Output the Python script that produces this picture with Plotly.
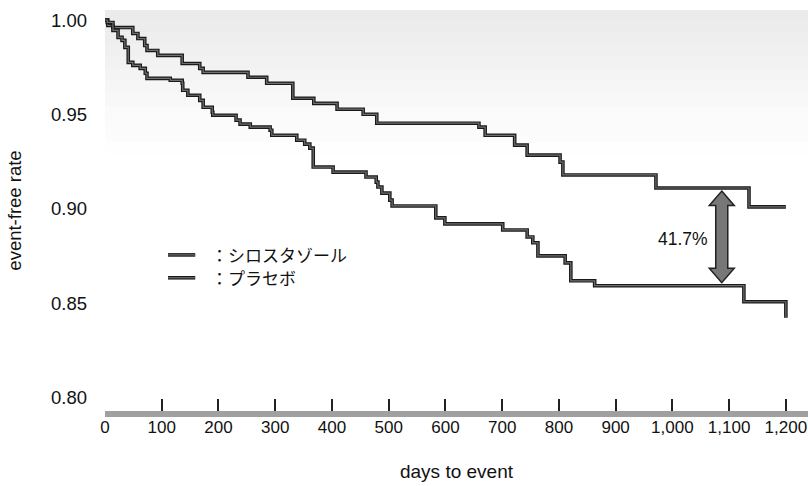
import plotly.graph_objects as go

# Kaplan–Meier estimates: days since randomisation and event-free rate
cilostazol_days = [0, 5, 14, 49, 58, 70, 74, 93, 136, 167, 173, 252, 285, 331, 368,
                   409, 455, 479, 659, 670, 722, 744, 802, 807, 971, 1135, 1200]
cilostazol_rate = [1.0, 0.9971, 0.9960, 0.9929, 0.9902, 0.9865, 0.9839, 0.9813, 0.9770,
                   0.9744, 0.9723, 0.9697, 0.9665, 0.9586, 0.9559, 0.9528, 0.9501, 0.9454,
                   0.9433, 0.9390, 0.9338, 0.9285, 0.9248, 0.9180, 0.9111, 0.9011, 0.9011]

placebo_days = [0, 4, 14, 23, 30, 35, 41, 49, 62, 71, 74, 115, 136, 137, 146, 167, 173,
                189, 190, 231, 238, 256, 291, 294, 338, 352, 361, 367, 402, 460, 478, 481,
                488, 502, 506, 583, 599, 701, 744, 754, 763, 811, 821, 863, 1126, 1200]
placebo_rate = [1.0, 0.9987, 0.9945, 0.9908, 0.9892, 0.9855, 0.9776, 0.9760, 0.9744,
                0.9718, 0.9691, 0.9681, 0.9665, 0.9628, 0.9602, 0.9575, 0.9538, 0.9512,
                0.9496, 0.9470, 0.9449, 0.9433, 0.9417, 0.9390, 0.9364, 0.9343, 0.9322,
                0.9222, 0.9195, 0.9169, 0.9142, 0.9116, 0.9084, 0.9047, 0.9016, 0.8953,
                0.8921, 0.8889, 0.8852, 0.8821, 0.8752, 0.8715, 0.8620, 0.8594, 0.8509,
                0.8425]

series_names = ["シロスタゾール", "プラセボ"]
x_ticks = [0, 100, 200, 300, 400, 500, 600, 700, 800, 900, 1000, 1100, 1200]
x_tick_text = ["0", "100", "200", "300", "400", "500", "600", "700", "800", "900",
               "1,000", "1,100", "1,200"]
y_ticks = [0.80, 0.85, 0.90, 0.95, 1.00]
reduction_label = "41.7%"
reduction_day = 1087

OUTLINE = "#1a1a1a"
INNER = "#707070"


def rate_at(days, rates, day):
    """Step-function lookup of the survival estimate at a given day."""
    value = rates[0]
    for d, r in zip(days, rates):
        if d <= day:
            value = r
    return value


fig = go.Figure()

# each curve: dark outline with a grey core
for days, rates, name in [(cilostazol_days, cilostazol_rate, series_names[0]),
                          (placebo_days, placebo_rate, series_names[1])]:
    fig.add_trace(go.Scatter(x=days, y=rates, mode="lines", line_shape="hv",
                             line=dict(color=OUTLINE, width=3.6), name=name,
                             showlegend=False, hoverinfo="skip"))
    fig.add_trace(go.Scatter(x=days, y=rates, mode="lines", line_shape="hv",
                             line=dict(color=INNER, width=1.2), name=name,
                             showlegend=False))

shapes = []

# faint print haze across the top of the panel, fading downward
haze_top, haze_step, haze_levels = 1.0065, 0.0065, [0.08, 0.075, 0.066, 0.058, 0.05,
                                                    0.042, 0.035, 0.028, 0.021, 0.015,
                                                    0.01, 0.005]
for i, a in enumerate(haze_levels):
    y1 = haze_top - i * haze_step
    shapes.append(dict(type="rect", xref="x", yref="y", x0=-8, x1=1240,
                       y0=y1 - haze_step, y1=y1,
                       fillcolor=f"rgba(0,0,0,{a})", line=dict(width=0), layer="below"))

# double-headed arrow between the two curves
upper = rate_at(cilostazol_days, cilostazol_rate, reduction_day) - 0.0016
lower = rate_at(placebo_days, placebo_rate, reduction_day) + 0.0016
sw, hw, hl = 10.6, 22.0, 0.0076
x = reduction_day
pts = [(x, upper), (x + hw, upper - hl), (x + sw, upper - hl), (x + sw, lower + hl),
       (x + hw, lower + hl), (x, lower), (x - hw, lower + hl), (x - sw, lower + hl),
       (x - sw, upper - hl), (x - hw, upper - hl)]
path = "M " + " L ".join(f"{px},{py}" for px, py in pts) + " Z"
shapes.append(dict(type="path", xref="x", yref="y", path=path, fillcolor="#777777",
                   line=dict(color="#222222", width=1.5)))

# legend keys
for ky in (0.8757, 0.8636):
    shapes.append(dict(type="line", xref="x", yref="y", x0=111, x1=159, y0=ky, y1=ky,
                       line=dict(color=OUTLINE, width=3.6)))
    shapes.append(dict(type="line", xref="x", yref="y", x0=111, x1=159, y0=ky, y1=ky,
                       line=dict(color=INNER, width=1.2)))

annotations = [
    dict(x=183, y=0.8757, xref="x", yref="y", text="：" + series_names[0],
         showarrow=False, xanchor="left", yanchor="middle",
         font=dict(family="Noto Sans CJK JP", size=17, color="#111111")),
    dict(x=183, y=0.8636, xref="x", yref="y", text="：" + series_names[1],
         showarrow=False, xanchor="left", yanchor="middle",
         font=dict(family="Noto Sans CJK JP", size=17, color="#111111")),
    dict(x=1018, y=0.8842, xref="x", yref="y", text=reduction_label, showarrow=False,
         xanchor="center", yanchor="middle",
         font=dict(family="Liberation Sans", size=17.5, color="#111111")),
]

fig.update_layout(
    width=808, height=486,
    margin=dict(l=105, r=0, t=10, b=75),
    paper_bgcolor="white", plot_bgcolor="white",
    font=dict(family="Liberation Sans", color="#111111"),
    shapes=shapes, annotations=annotations,
    xaxis=dict(range=[0, 1239], tickmode="array", tickvals=x_ticks, ticktext=x_tick_text,
               ticks="inside", ticklen=12, tickwidth=1.5, tickcolor="#222222",
               showline=True, linecolor="#a0a0a0", linewidth=6, showgrid=False,
               zeroline=False, tickfont=dict(size=17), ticklabelstandoff=-4,
               title=dict(text="days to event", font=dict(size=19), standoff=30)),
    yaxis=dict(range=[0.7931, 1.0053], tickmode="array", tickvals=y_ticks,
               tickformat=".2f", ticks="", showline=False, showgrid=False,
               zeroline=False, tickfont=dict(size=18.5), ticklabelstandoff=17,
               title=dict(text="event-free rate", font=dict(size=18.5), standoff=24)),
)

fig.write_html("out.html")
